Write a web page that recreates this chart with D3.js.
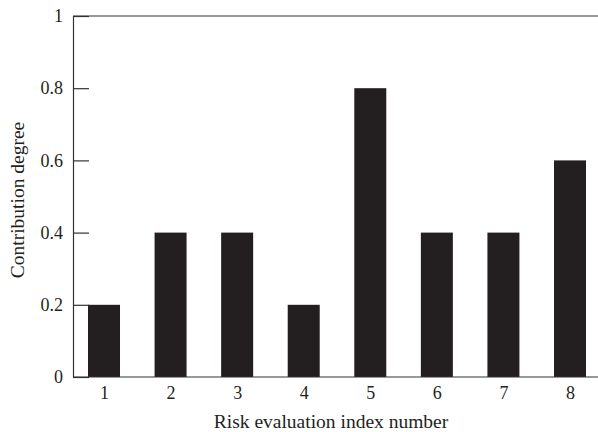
<!DOCTYPE html>
<html>
<head>
<meta charset="utf-8">
<script src="https://cdn.jsdelivr.net/npm/d3@7"></script>
<style>
  body { margin: 0; background: #fff; }
  svg text { font-family: "Liberation Serif", "DejaVu Serif", serif; fill: #231f20; }
</style>
</head>
<body>
<div id="chart"></div>
<script>
var categories = ["1", "2", "3", "4", "5", "6", "7", "8"];
var values = [0.2, 0.4, 0.4, 0.2, 0.8, 0.4, 0.4, 0.6];
var yTicks = [0, 0.2, 0.4, 0.6, 0.8, 1];

var w = 598, h = 432;
var mLeft = 73, mRight = 598, mTop = 16, mBottom = 377;

var svg = d3.select("#chart").append("svg")
  .attr("width", w)
  .attr("height", h);

var x = d3.scalePoint()
  .domain(categories)
  .range([104, 570]);

var y = d3.scaleLinear()
  .domain([0, 1])
  .range([mBottom, mTop]);

var barW = 32;

// bars
svg.selectAll("rect.bar")
  .data(values)
  .enter()
  .append("rect")
  .attr("class", "bar")
  .attr("x", function(d, i) { return x(categories[i]) - barW / 2; })
  .attr("y", function(d) { return y(d); })
  .attr("width", barW)
  .attr("height", function(d) { return y(0) - y(d); })
  .attr("fill", "#231f20");

// y axis, ticks pointing inward
var yAxis = svg.append("g")
  .attr("transform", "translate(" + mLeft + ",0)")
  .call(d3.axisLeft(y)
    .tickValues(yTicks)
    .tickFormat(function(d) { return d === 0 || d === 1 ? d3.format("d")(d) : d3.format(".1f")(d); })
    .tickSizeInner(-16)
    .tickSizeOuter(0)
    .tickPadding(10));
yAxis.select(".domain").attr("stroke", "#333").attr("stroke-width", 1.2);
yAxis.selectAll(".tick line").attr("stroke", "#333").attr("stroke-width", 1.2);
yAxis.selectAll(".tick text")
  .style("font-family", "'Liberation Serif', 'DejaVu Serif', serif")
  .style("font-size", "18px")
  .attr("fill", "#231f20");

// x axis: labels only, baseline drawn separately
var xAxis = svg.append("g")
  .attr("transform", "translate(0," + mBottom + ")")
  .call(d3.axisBottom(x).tickSize(0).tickPadding(9));
xAxis.select(".domain").remove();
xAxis.selectAll(".tick text")
  .style("font-family", "'Liberation Serif', 'DejaVu Serif', serif")
  .style("font-size", "18px")
  .attr("fill", "#231f20");

svg.append("line")
  .attr("x1", mLeft).attr("x2", mRight)
  .attr("y1", mBottom).attr("y2", mBottom)
  .attr("stroke", "#333").attr("stroke-width", 1.2);

// top frame line
svg.append("line")
  .attr("x1", mLeft).attr("x2", mRight)
  .attr("y1", mTop).attr("y2", mTop)
  .attr("stroke", "#333").attr("stroke-width", 1.2);

// axis titles
svg.append("text")
  .attr("x", 331)
  .attr("y", 428)
  .attr("text-anchor", "middle")
  .style("font-size", "19.5px")
  .text("Risk evaluation index number");

svg.append("text")
  .attr("transform", "translate(24,200) rotate(-90)")
  .attr("text-anchor", "middle")
  .style("font-size", "19.5px")
  .text("Contribution degree");
</script>
</body>
</html>
